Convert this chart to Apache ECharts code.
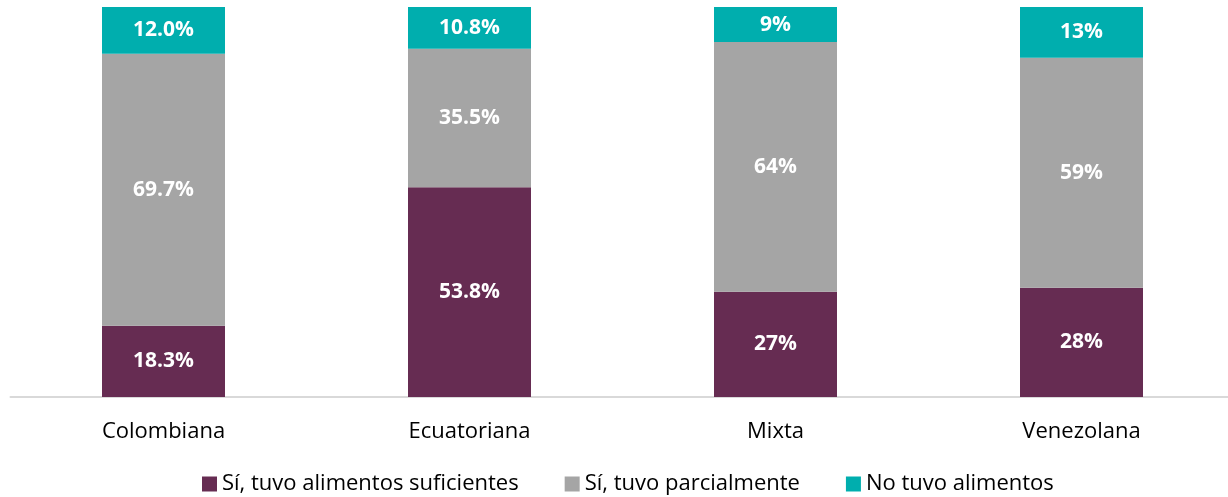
<!DOCTYPE html>
<html>
<head>
<meta charset="utf-8">
<script src="https://cdn.jsdelivr.net/npm/echarts@6/dist/echarts.min.js"></script>
<style>
  html, body { margin: 0; padding: 0; background: #fff; overflow: hidden; }
  #chart { width: 1240px; height: 497px; }
</style>
</head>
<body>
<div id="chart"></div>
<script>
const categories = ['Colombiana', 'Ecuatoriana', 'Mixta', 'Venezolana'];
const suficientes = [18.3, 53.8, 27, 28];
const parcialmente = [69.7, 35.5, 64, 59];
const noTuvo = [12.0, 10.8, 9, 13];
const labelsSuf = ['18.3%', '53.8%', '27%', '28%'];
const labelsPar = ['69.7%', '35.5%', '64%', '59%'];
const labelsNo = ['12.0%', '10.8%', '9%', '13%'];

const font = '"Open Sans", "Noto Sans", sans-serif';

const makeSeries = (name, data, labels, color) => ({
  name,
  type: 'bar',
  stack: 'total',
  barWidth: 123,
  data,
  itemStyle: {color},
  label: {
    show: true,
    position: 'inside',
    color: '#fff',
    fontWeight: 'bold',
    fontSize: 21,
    fontFamily: font,
    formatter: p => labels[p.dataIndex]
  }
});

// chart div is a bit wider than the window so the last band isn't squeezed
const myChart = echarts.init(document.getElementById('chart'));
myChart.setOption({
  animation: false,
  grid: {left: 10.5, top: 7, width: 1224, height: 390},
  legend: {
    top: 468,
    left: 197,
    itemWidth: 15,
    itemHeight: 15,
    itemGap: 46,
    icon: 'rect',
    textStyle: {fontSize: 22, color: '#000', fontFamily: font}
  },
  xAxis: {
    type: 'category',
    data: categories,
    axisTick: {show: false},
    axisLine: {lineStyle: {color: '#D9D9D9', width: 2}},
    axisLabel: {margin: 24, fontSize: 22, color: '#000', fontFamily: font}
  },
  yAxis: {
    type: 'value',
    min: 0,
    max: 100,
    show: false,
    splitLine: {show: false}
  },
  series: [
    makeSeries('Sí, tuvo alimentos suficientes', suficientes, labelsSuf, '#662C52'),
    makeSeries('Sí, tuvo parcialmente', parcialmente, labelsPar, '#A5A5A5'),
    makeSeries('No tuvo alimentos', noTuvo, labelsNo, '#00AEAE')
  ]
});
</script>
</body>
</html>
